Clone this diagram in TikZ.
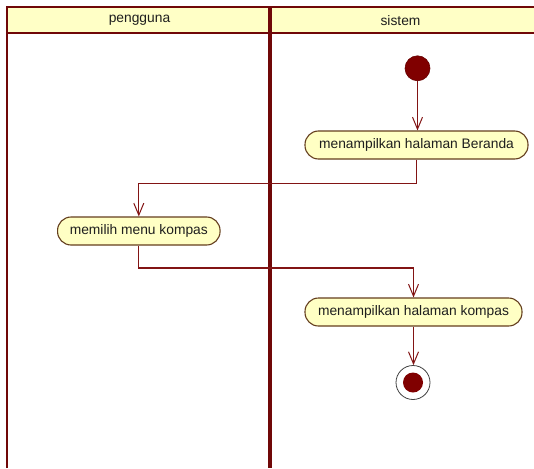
\documentclass[tikz,border=0pt]{standalone}
\usepackage{fontspec}
\setmainfont{Liberation Sans}
\usetikzlibrary{arrows.meta}

\definecolor{lane}{RGB}{112,8,8}
\definecolor{flow}{RGB}{130,20,20}
\definecolor{dotred}{RGB}{128,0,0}
\definecolor{actfill}{RGB}{255,255,196}
\definecolor{hdrfill}{RGB}{255,255,198}
\definecolor{actline}{RGB}{100,62,30}
\definecolor{ink}{RGB}{30,30,30}

\tikzset{
  action/.style={draw=actline, fill=actfill, line width=1.1pt, rounded corners=13.5pt,
    minimum height=28pt, inner sep=0pt, text=ink, font=\fontsize{13.8}{16}\selectfont},
  lanetitle/.style={text=ink, inner sep=0pt, font=\fontsize{13.8}{16}\selectfont},
  flowline/.style={draw=flow, line width=1.1pt,
    -{Straight Barb[length=12pt,width=10pt,line width=1pt]}},
  initial/.style={circle, fill=dotred, draw=dotred!80!black, line width=0.6pt,
    minimum size=25pt, inner sep=0pt},
  finalring/.style={circle, draw=black!75, fill=white, line width=0.8pt,
    minimum size=34pt, inner sep=0pt},
  finalcore/.style={circle, fill=dotred, minimum size=20pt, inner sep=0pt},
}

\begin{document}
\begin{tikzpicture}[x=1pt, y=-1pt]
\useasboundingbox[fill=white] (0,0) rectangle (534,468);

% swimlanes
\fill[hdrfill] (7,7) rectangle (534,33.5);
\draw[lane, line width=2pt] (7,468) -- (7,7) -- (534,7);
\draw[lane, line width=2pt] (7,33.5) -- (534,33.5);
\draw[lane, line width=4.5pt] (270,7) -- (270,468);
\node[lanetitle] (laneA) at (139.5,20.5) {pengguna};
\node[lanetitle] (laneB) at (400.5,20.5) {sistem};

% activity nodes
\node[initial] (start) at (417.5,68.3) {};
\node[action, minimum width=223pt] (beranda) at (416.5,145) {menampilkan halaman Beranda};
\node[action, minimum width=162.5pt] (memilih) at (138.8,231) {memilih menu kompas};
\node[action, minimum width=217pt] (kompas) at (413.5,312) {menampilkan halaman kompas};
\node[finalring] (end) at (413,382.5) {};
\node[finalcore] (endcore) at (end.center) {};

% bend points of the control flow
\coordinate (b1) at (416.5,183.5);
\coordinate (m1) at (138.8,268);

% control flow
\draw[flowline] (start) -- (start |- beranda.north);
\draw[flowline] (beranda.south) -- (b1) -| (memilih.north);
\draw[flowline] (memilih.south) -- (m1) -| (kompas.north);
\draw[flowline] (kompas.south) -- (kompas.south |- end.north);
\end{tikzpicture}
\end{document}
